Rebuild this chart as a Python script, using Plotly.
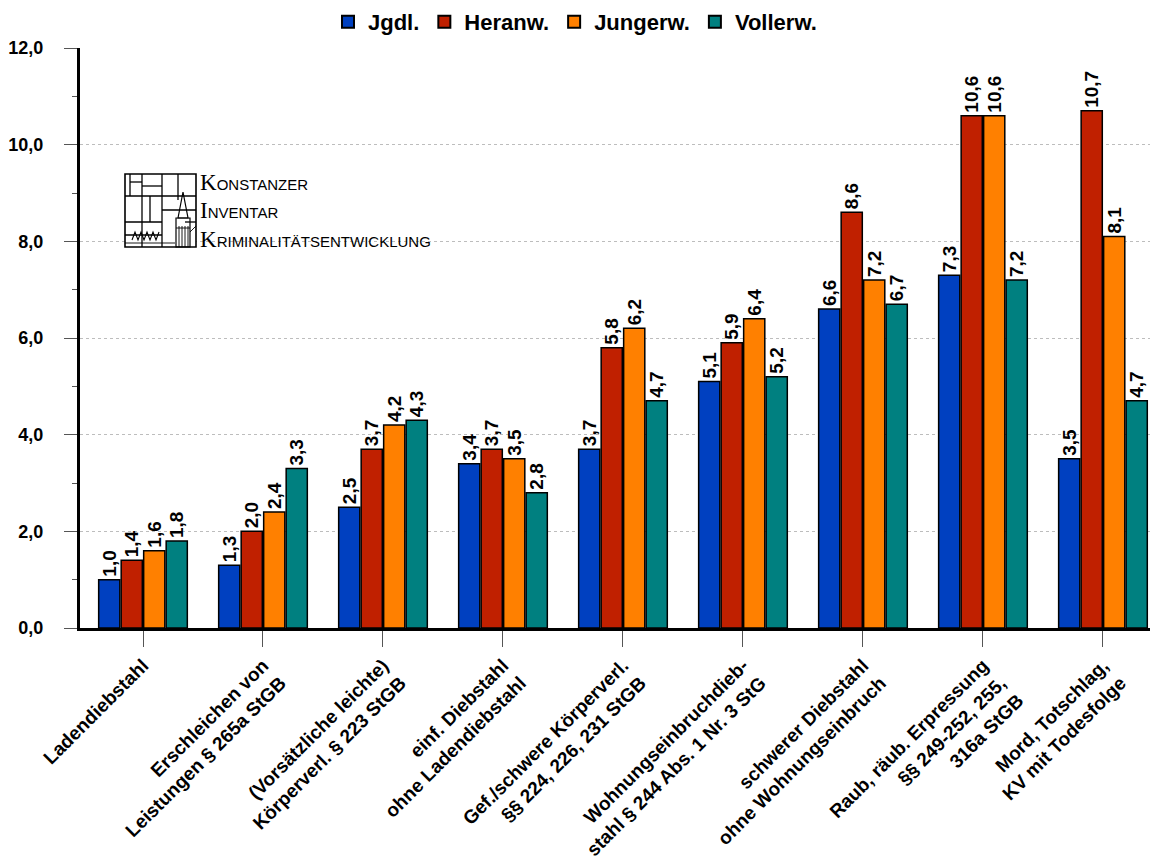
import plotly.graph_objects as go

# Offence categories (x axis)
categories = [
    "Ladendiebstahl",
    "Erschleichen von<br>Leistungen § 265a StGB",
    "(Vorsätzliche leichte)<br>Körperverl. § 223 StGB",
    "einf. Diebstahl<br>ohne Ladendiebstahl",
    "Gef./schwere Körperverl.<br>§§ 224, 226, 231 StGB",
    "Wohnungseinbruchdieb-<br>stahl § 244 Abs. 1 Nr. 3 StG",
    "schwerer Diebstahl<br>ohne Wohnungseinbruch",
    "Raub, räub. Erpressung<br>§§ 249-252, 255,<br>316a StGB",
    "Mord, Totschlag,<br>KV mit Todesfolge",
]

# Values per age group
jgdl = [1.0, 1.3, 2.5, 3.4, 3.7, 5.1, 6.6, 7.3, 3.5]
heranw = [1.4, 2.0, 3.7, 3.7, 5.8, 5.9, 8.6, 10.6, 10.7]
jungerw = [1.6, 2.4, 4.2, 3.5, 6.2, 6.4, 7.2, 10.6, 8.1]
vollerw = [1.8, 3.3, 4.3, 2.8, 4.7, 5.2, 6.7, 7.2, 4.7]

series_names = ["Jgdl.", "Heranw.", "Jungerw.", "Vollerw."]
series_values = [jgdl, heranw, jungerw, vollerw]
series_colors = ["#0040C0", "#C02000", "#FF8000", "#008080"]

y_ticks = [0, 2, 4, 6, 8, 10, 12]

FONT = "Arial, Liberation Sans, sans-serif"

W, H = 1150, 865
ML, MR, MT, MB = 80, 0, 48, 237
PW, PH = W - ML - MR, H - MT - MB


def fmt(v):
    return f"{v:.1f}".replace(".", ",")


fig = go.Figure()
for name, vals, col in zip(series_names, series_values, series_colors):
    fig.add_trace(go.Bar(
        name=name,
        x=categories,
        y=vals,
        text=[fmt(v) for v in vals],
        textposition="outside",
        textangle=-90,
        constraintext="none",
        cliponaxis=False,
        textfont=dict(family=FONT, size=19, color="black", weight="bold"),
        marker=dict(color=col, line=dict(color="black", width=1.5)),
    ))


# pixel -> paper helpers for the logo
def px(xp):
    return (xp - ML) / PW


def py(yp):
    return (H - MB - yp) / PH


shapes = []


def line(x0, y0, x1, y1, w=1.3):
    shapes.append(dict(type="line", xref="paper", yref="paper",
                       x0=px(x0), y0=py(y0), x1=px(x1), y1=py(y1),
                       line=dict(color="black", width=w)))


# Logo: framed city-plan grid with a cathedral spire
shapes.append(dict(type="rect", xref="paper", yref="paper",
                   x0=px(125), y0=py(174), x1=px(196), y1=py(247),
                   line=dict(color="black", width=1.6), fillcolor="white"))
line(142, 174, 142, 247)
line(162, 174, 162, 247)
line(178, 174, 178, 200)
line(125, 196, 196, 196)
line(125, 222, 162, 222)
line(125, 235, 162, 235)
line(162, 210, 196, 210)
line(185, 222, 196, 222)
line(130, 174, 130, 196)
line(130, 182, 142, 182)
line(142, 186, 162, 186)
line(150, 196, 150, 222)
line(125, 243, 175, 243, 0.9)
# spire
shapes.append(dict(type="path", xref="paper", yref="paper",
                   path=(f"M {px(178)},{py(218)} L {px(183)},{py(192)} "
                         f"L {px(188)},{py(218)} Z"),
                   line=dict(color="black", width=1.2)))
shapes.append(dict(type="rect", xref="paper", yref="paper",
                   x0=px(176), y0=py(218), x1=px(190), y1=py(247),
                   line=dict(color="black", width=1.2)))
for xx in (179, 182, 185, 188):
    line(xx, 226, xx, 247, 0.9)
line(176, 228, 190, 228, 0.9)
line(190, 232, 196, 226, 0.9)
# zigzag roofs
zz = "M " + " L ".join(
    f"{px(x)},{py(y)}" for x, y in
    [(132, 240), (135, 232), (138, 240), (141, 232), (144, 240),
     (147, 232), (150, 240), (153, 232), (156, 240), (159, 232)])
shapes.append(dict(type="path", xref="paper", yref="paper", path=zz,
                   line=dict(color="black", width=1.1)))

annotations = []
logo_lines = [("K", "ONSTANZER", 183), ("I", "NVENTAR", 211), ("K", "RIMINALITÄTSENTWICKLUNG", 239)]
for first, rest, yc in logo_lines:
    annotations.append(dict(
        xref="paper", yref="paper", x=px(198), y=py(yc),
        xanchor="left", yanchor="middle", showarrow=False,
        text=(f"<span style='font-family:Liberation Serif, serif;font-size:23px'>{first}</span>"
              f"{rest}"),
        font=dict(family=FONT, size=15, color="black"),
    ))

fig.update_layout(
    width=W, height=H,
    margin=dict(l=ML, r=MR, t=MT, b=MB, pad=0, autoexpand=False),
    paper_bgcolor="white", plot_bgcolor="white",
    barmode="group", bargap=0.25, bargroupgap=0.06,
    font=dict(family=FONT, color="black"),
    showlegend=True,
    legend=dict(
        orientation="h", xref="container", yref="container",
        x=0.5, xanchor="center", y=1 - 22 / H, yanchor="middle",
        font=dict(family=FONT, size=22, color="black", weight="bold"),
        itemsizing="constant", traceorder="normal",
        bgcolor="rgba(0,0,0,0)",
    ),
    shapes=shapes,
    annotations=annotations,
)

fig.update_xaxes(
    range=[-0.525, 8.392],
    automargin=False,
    showline=True, linecolor="black", linewidth=3,
    ticks="outside", ticklen=16, tickwidth=1.3, tickcolor="#555555",
    tickangle=-45,
    tickfont=dict(family=FONT, size=19, color="black", weight="bold"),
    showgrid=False, zeroline=False,
)

fig.update_yaxes(
    range=[0, 12],
    automargin=False,
    tickvals=y_ticks,
    ticktext=[fmt(v) for v in y_ticks],
    showline=True, linecolor="black", linewidth=3,
    ticks="outside", ticklen=13, tickwidth=1.3, tickcolor="#555555",
    ticklabelstandoff=17,
    minor=dict(dtick=1, ticks="outside", ticklen=5, tickwidth=1.3, tickcolor="#555555", showgrid=False),
    tickfont=dict(family=FONT, size=18, color="black", weight="bold"),
    showgrid=True, gridcolor="#BDBDBD", gridwidth=1, griddash="dot",
    zeroline=False,
)

fig.write_html("out.html")
